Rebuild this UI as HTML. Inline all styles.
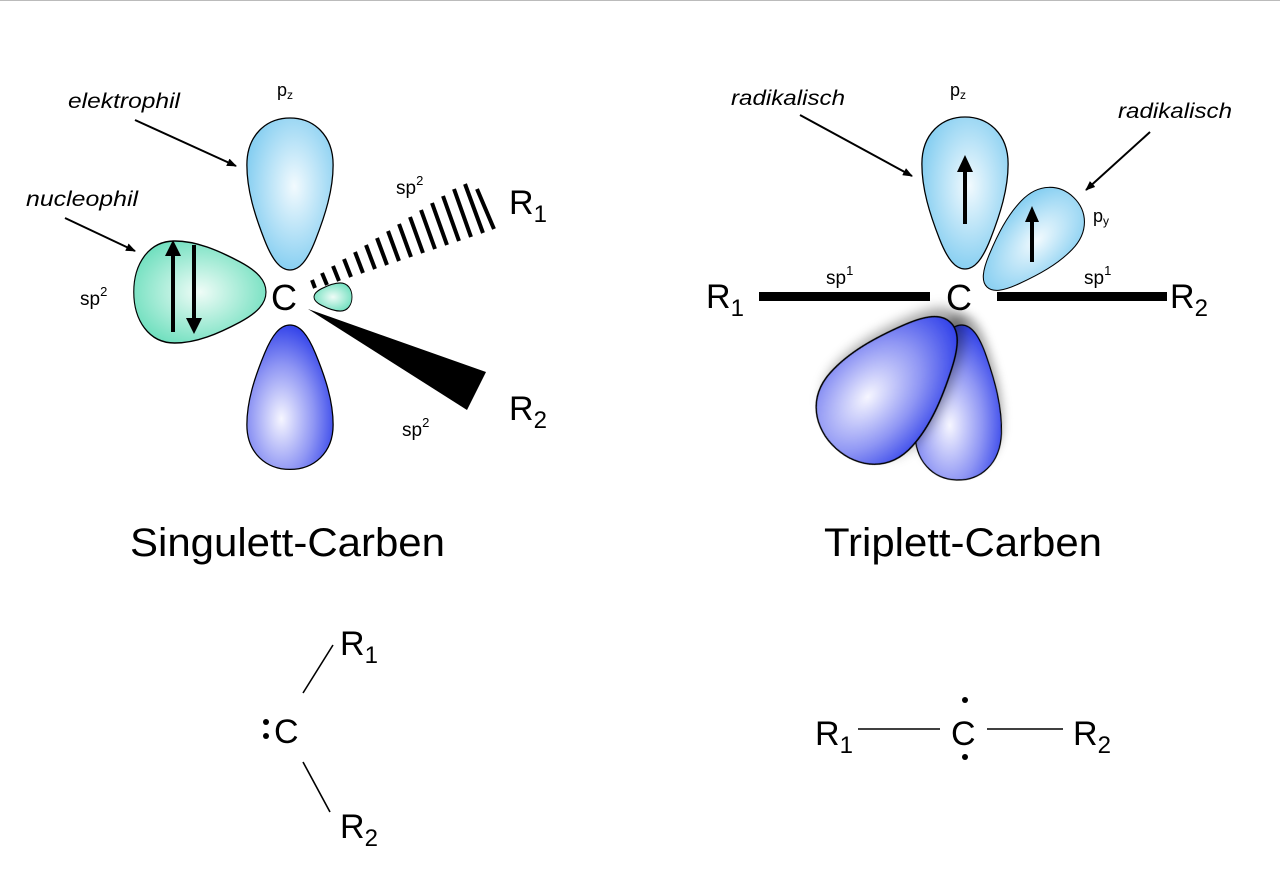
<!DOCTYPE html>
<html><head><meta charset="utf-8"><style>
html,body{margin:0;padding:0;background:#fff;}
svg{display:block;}
text{font-family:"Liberation Sans",sans-serif;fill:#000;}
.it{font-style:italic;font-size:21px;}
</style></head><body>
<svg width="1280" height="889" viewBox="0 0 1280 889" xmlns="http://www.w3.org/2000/svg">
<defs>
<radialGradient id="lb" cx="0.55" cy="0.45" r="0.7"><stop offset="0" stop-color="#f2fafe"/><stop offset="1" stop-color="#6cc4ee"/></radialGradient>
<radialGradient id="gr" cx="0.5" cy="0.5" r="0.7"><stop offset="0" stop-color="#effcf7"/><stop offset="1" stop-color="#4fd8b0"/></radialGradient>
<radialGradient id="db" cx="0.6" cy="0.35" r="0.75"><stop offset="0" stop-color="#f6f6ff"/><stop offset="0.5" stop-color="#8f96f4"/><stop offset="1" stop-color="#1528e6"/></radialGradient>
<filter id="sh" x="-30%" y="-30%" width="160%" height="160%"><feDropShadow dx="0" dy="10" stdDeviation="5" flood-color="#000" flood-opacity="0.35"/></filter>
<path id="td" d="M0,0 C-10,0 -18,-10 -26,-30 C-36,-55 -44,-80 -44,-105 C-44,-135 -24,-152 0,-152 C24,-152 44,-135 44,-105 C44,-80 36,-55 26,-30 C18,-10 10,0 0,0Z"/>
<marker id="ah" markerWidth="10" markerHeight="8" refX="9" refY="4" orient="auto" markerUnits="userSpaceOnUse"><path d="M0,0 L10,4 L0,8 Z" fill="#000"/></marker>
</defs>
<line x1="0" y1="0.5" x2="1280" y2="0.5" stroke="#bbb" stroke-width="1"/>

<!-- Singlet -->
<use href="#td" transform="translate(290,270) scale(0.98,1)" fill="url(#lb)" stroke="#000" stroke-width="1.3"/>
<use href="#td" transform="translate(290,325) rotate(180) scale(0.98,0.95)" fill="url(#db)" stroke="#000" stroke-width="1.3"/>
<use href="#td" transform="translate(266,292) rotate(-90) scale(1.16,0.87)" fill="url(#gr)" stroke="#000" stroke-width="1.3"/>
<use href="#td" transform="translate(314,297) rotate(90) scale(0.32,0.25)" fill="url(#gr)" stroke="#000" stroke-width="3.5"/>
<polygon points="308,309 486,372 467,410" fill="#000"/>
<line x1="173" y1="332" x2="173" y2="252" stroke="#000" stroke-width="4"/>
<path d="M165,256 L173,240 L181,256Z" fill="#000"/>
<line x1="194" y1="245" x2="194" y2="322" stroke="#000" stroke-width="4"/>
<path d="M186,318 L194,334 L202,318Z" fill="#000"/>
<text x="271" y="310" font-size="36">C</text>
<text x="277" y="96" font-size="18">p<tspan font-size="12" dy="3">z</tspan></text>
<text x="68" y="108" class="it" textLength="112" lengthAdjust="spacingAndGlyphs">elektrophil</text>
<line x1="135" y1="120" x2="236" y2="166" stroke="#000" stroke-width="2" marker-end="url(#ah)"/>
<text x="26" y="206" class="it" textLength="112" lengthAdjust="spacingAndGlyphs">nucleophil</text>
<line x1="65" y1="218" x2="135" y2="251" stroke="#000" stroke-width="2" marker-end="url(#ah)"/>
<text x="80" y="305" font-size="19">sp<tspan font-size="13" dy="-9">2</tspan></text>
<text x="396" y="194" font-size="19">sp<tspan font-size="13" dy="-9">2</tspan></text>
<text x="402" y="436" font-size="19">sp<tspan font-size="13" dy="-9">2</tspan></text>
<text x="509" y="214" font-size="34">R<tspan font-size="24" dy="8">1</tspan></text>
<text x="509" y="420" font-size="34">R<tspan font-size="24" dy="8">2</tspan></text>
<text x="130" y="556" font-size="40" textLength="315" lengthAdjust="spacingAndGlyphs">Singulett-Carben</text>

<!-- Triplet -->
<use href="#td" transform="translate(962,325) rotate(182) scale(0.98,1.02)" fill="url(#db)" stroke="#000" stroke-width="1.3" filter="url(#sh)"/>
<use href="#td" transform="translate(950,322) rotate(222) scale(1.25,1.12)" fill="url(#db)" stroke="#000" stroke-width="1.3" filter="url(#sh)"/>
<use href="#td" transform="translate(965,269) scale(0.98,1)" fill="url(#lb)" stroke="#000" stroke-width="1.3"/>
<use href="#td" transform="translate(987,287) rotate(44) scale(0.8,0.82)" fill="url(#lb)" stroke="#000" stroke-width="1.3"/>
<line x1="965" y1="224" x2="965" y2="170" stroke="#000" stroke-width="4"/>
<path d="M957,172 L965,155 L973,172Z" fill="#000"/>
<line x1="1032" y1="262" x2="1032" y2="220" stroke="#000" stroke-width="4"/>
<path d="M1025,222 L1032,206 L1039,222Z" fill="#000"/>
<rect x="759" y="292" width="171" height="9" fill="#000"/>
<rect x="997" y="292" width="170" height="9" fill="#000"/>
<text x="946" y="310" font-size="36">C</text>
<text x="706" y="308" font-size="34">R<tspan font-size="24" dy="8">1</tspan></text>
<text x="1170" y="308" font-size="34">R<tspan font-size="24" dy="8">2</tspan></text>
<text x="826" y="284" font-size="19">sp<tspan font-size="13" dy="-9">1</tspan></text>
<text x="1084" y="284" font-size="19">sp<tspan font-size="13" dy="-9">1</tspan></text>
<text x="1093" y="222" font-size="18">p<tspan font-size="12" dy="3">y</tspan></text>
<text x="950" y="96" font-size="18">p<tspan font-size="12" dy="3">z</tspan></text>
<text x="731" y="105" class="it" textLength="114" lengthAdjust="spacingAndGlyphs">radikalisch</text>
<line x1="800" y1="115" x2="912" y2="176" stroke="#000" stroke-width="2" marker-end="url(#ah)"/>
<text x="1118" y="118" class="it" textLength="114" lengthAdjust="spacingAndGlyphs">radikalisch</text>
<line x1="1150" y1="132" x2="1086" y2="190" stroke="#000" stroke-width="2" marker-end="url(#ah)"/>
<text x="824" y="556" font-size="40" textLength="278" lengthAdjust="spacingAndGlyphs">Triplett-Carben</text>

<!-- Bottom formulas -->
<text x="274" y="743" font-size="34">C</text>
<circle cx="266" cy="722" r="3" fill="#000"/><circle cx="266" cy="736" r="3" fill="#000"/>
<line x1="303" y1="693" x2="333" y2="645" stroke="#000" stroke-width="1.6"/>
<line x1="303" y1="762" x2="330" y2="812" stroke="#000" stroke-width="1.6"/>
<text x="340" y="655" font-size="34">R<tspan font-size="24" dy="8">1</tspan></text>
<text x="340" y="838" font-size="34">R<tspan font-size="24" dy="8">2</tspan></text>

<text x="815" y="745" font-size="34">R<tspan font-size="24" dy="8">1</tspan></text>
<line x1="858" y1="729" x2="940" y2="729" stroke="#000" stroke-width="1.6"/>
<text x="951" y="745" font-size="34">C</text>
<circle cx="965" cy="700" r="3" fill="#000"/><circle cx="965" cy="757" r="3" fill="#000"/>
<line x1="987" y1="729" x2="1063" y2="729" stroke="#000" stroke-width="1.6"/>
<text x="1073" y="745" font-size="34">R<tspan font-size="24" dy="8">2</tspan></text>
<g stroke="#000" stroke-width="4">
<line x1="315" y1="288" x2="312" y2="280"/>
<line x1="327" y1="285" x2="322" y2="273"/>
<line x1="339" y1="281" x2="333" y2="266"/>
<line x1="351" y1="277" x2="344" y2="259"/>
<line x1="363" y1="273" x2="355" y2="252"/>
<line x1="375" y1="269" x2="366" y2="245"/>
<line x1="387" y1="265" x2="377" y2="238"/>
<line x1="399" y1="261" x2="388" y2="231"/>
<line x1="411" y1="257" x2="399" y2="224"/>
<line x1="423" y1="253" x2="410" y2="217"/>
<line x1="435" y1="249" x2="421" y2="210"/>
<line x1="447" y1="245" x2="432" y2="203"/>
<line x1="459" y1="241" x2="443" y2="196"/>
<line x1="471" y1="237" x2="454" y2="189"/>
<line x1="483" y1="233" x2="465" y2="184"/>
<line x1="494" y1="229" x2="477" y2="189"/>
</g>
</svg>
</body></html>
